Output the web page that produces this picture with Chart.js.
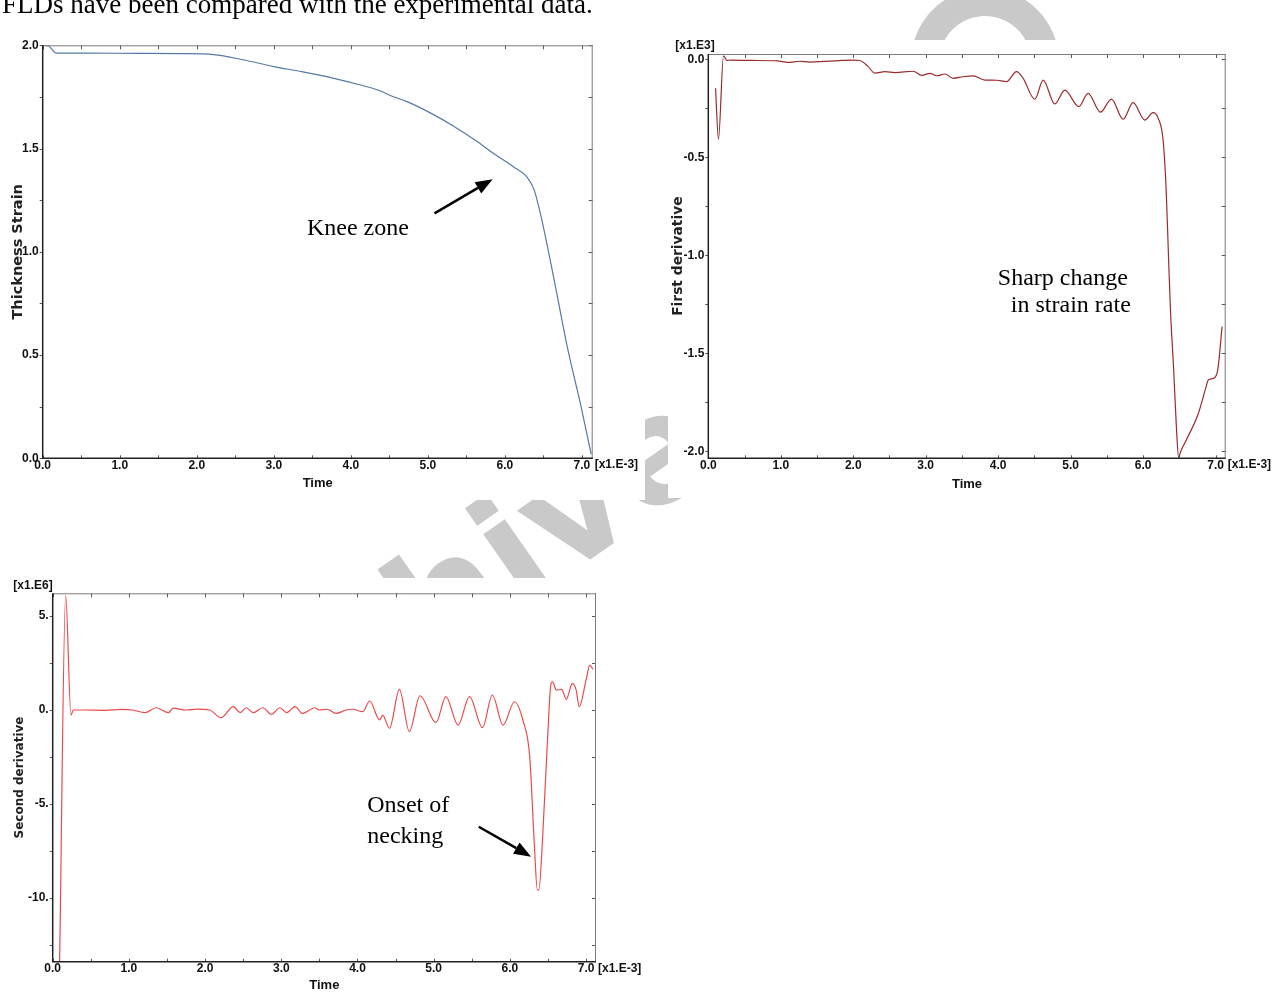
<!DOCTYPE html>
<html>
<head>
<meta charset="utf-8">
<title>Thickness strain and its derivatives</title>
<script src="https://cdn.jsdelivr.net/npm/chart.js@4.4.1/dist/chart.umd.min.js"></script>
<style>
  html, body { margin: 0; padding: 0; background: #fff; }
  #page { position: relative; width: 1277px; height: 994px; overflow: hidden; background: #fff; }
  #stamp { position: absolute; left: 0; top: 0; }
  .intro { position: absolute; left: 2px; top: -9px; font: 27px/27px "Liberation Serif", "Times New Roman", serif; color: #000; white-space: nowrap; }
  .panel { position: absolute; background: #fff; }
  .plot { position: absolute; }
</style>
</head>
<body>
<div id="page">
  <canvas id="stamp" width="1277" height="994"></canvas>
  <div class="intro">FLDs have been compared with the experimental data.</div>
  <div class="panel" style="left:0;top:28px;width:643px;height:470px"></div>
  <div class="panel" style="left:668px;top:40px;width:609px;height:458px"></div>
  <div class="panel" style="left:0;top:578px;width:648px;height:416px"></div>
  <canvas id="strain-chart" class="plot" width="645" height="470" style="left:0;top:30px"></canvas>
  <canvas id="first-chart" class="plot" width="617" height="460" style="left:660px;top:35px"></canvas>
  <canvas id="second-chart" class="plot" width="648" height="419" style="left:0;top:575px"></canvas>
</div>
<script>
// time axis shared by all three plots (x1.E-3)
const timeTicks = [0, 1, 2, 3, 4, 5, 6, 7];

// thickness strain
const strainTime = [0, 0.08, 0.18, 0.6, 1.2, 1.8, 2.22, 2.6, 3.0, 3.35, 3.78, 4.1, 4.38, 4.51, 4.73,
  5.08, 5.34, 5.64, 5.85, 6.11, 6.29, 6.38, 6.47, 6.64, 6.81, 6.99, 7.12];
const strainValue = [2.0, 1.995, 1.962, 1.962, 1.961, 1.96, 1.955, 1.93, 1.897, 1.873, 1.84, 1.81, 1.78, 1.757, 1.727,
  1.663, 1.607, 1.534, 1.477, 1.412, 1.36, 1.30, 1.17, 0.863, 0.54, 0.249, 0.02];
const strainTicks = [0, 0.5, 1.0, 1.5, 2.0];

// first derivative (x1.E3)
const firstTime = [0.10, 0.14, 0.21, 0.26, 0.30, 0.60, 0.95, 1.10, 1.26, 1.40, 1.60, 1.80, 2.00, 2.09, 2.20, 2.30,
  2.437, 2.575, 2.828, 2.943, 3.058, 3.15, 3.265, 3.38, 3.517, 3.655, 3.817, 3.978, 4.116, 4.253, 4.345,
  4.506, 4.621, 4.782, 4.92, 5.113, 5.241, 5.412, 5.564, 5.724, 5.862, 6.023, 6.138, 6.207, 6.276, 6.32,
  6.35, 6.38, 6.42, 6.46, 6.49, 6.52, 6.60, 6.76, 6.87, 6.90, 6.97, 7.03, 7.09];
const firstValue = [-0.148, -0.408, 0.017, -0.006, -0.004, -0.006, -0.008, -0.016, -0.010, -0.014, -0.011, -0.007, -0.004, -0.006, -0.035, -0.071,
  -0.063, -0.068, -0.061, -0.082, -0.072, -0.084, -0.075, -0.097, -0.089, -0.085, -0.106, -0.107, -0.114, -0.063, -0.097,
  -0.204, -0.106, -0.228, -0.157, -0.242, -0.174, -0.27, -0.203, -0.306, -0.221, -0.31, -0.272, -0.30, -0.412, -0.68,
  -1.0, -1.3, -1.57, -1.88, -2.03, -2.0, -1.94, -1.81, -1.67, -1.636, -1.628, -1.585, -1.364];
const firstTicks = [-2.0, -1.5, -1.0, -0.5, 0.0];

// second derivative (x1.E6)
const secondTime = [0.09, 0.17, 0.24, 0.27, 0.40, 0.70, 0.90, 1.05, 1.21, 1.36, 1.52, 1.58, 1.75, 1.90, 2.06,
  2.21, 2.37, 2.46, 2.54, 2.63, 2.76, 2.87, 2.98, 3.07, 3.18, 3.28, 3.44, 3.50, 3.60, 3.72, 3.85, 3.94,
  4.07, 4.16, 4.29, 4.33, 4.42, 4.55, 4.68, 4.82, 5.03, 5.16, 5.32, 5.47, 5.64, 5.77, 5.91, 6.06, 6.17,
  6.26, 6.32, 6.36, 6.38, 6.43, 6.50, 6.54, 6.56, 6.61, 6.68, 6.74, 6.82, 6.87, 6.91, 7.00, 7.05, 7.09];
const secondValue = [-13.6, 6.1, -0.27, 0.0, 0.0, -0.02, 0.03, 0.0, -0.14, 0.12, -0.14, 0.1, 0.0, 0.05, 0.0,
  -0.41, 0.18, -0.14, 0.12, -0.14, 0.12, -0.23, 0.12, -0.14, 0.18, -0.18, 0.12, 0.0, 0.04, -0.18, 0.0, 0.04,
  -0.09, 0.48, -0.53, -0.27, -0.97, 1.10, -1.15, 0.76, -0.67, 0.71, -0.80, 0.71, -0.94, 0.80, -0.80, 0.44, -0.53,
  -2.48, -7.09, -9.57, -9.57, -6.74, -1.06, 1.42, 1.5, 1.06, 1.10, 0.57, 1.42, 1.06, 0.18, 1.6, 2.39, 2.16];
const secondTicks = [-10, -5, 0, 5];

const sans = "'Liberation Sans', Arial, sans-serif";
const serif = "'Liberation Serif', 'Times New Roman', serif";

// faint diagonal stamp behind the panels
(function () {
  const c = document.getElementById('stamp').getContext('2d');
  c.fillStyle = '#c9c9c9';
  c.save();
  c.translate(204, 830);
  c.rotate(-35 * Math.PI / 180);
  c.font = "bold 150px 'DejaVu Sans', sans-serif";
  c.fillText('Archive of SID', 0, 0);
  c.restore();
  // top of a further letter peeking over the right panel
  c.beginPath();
  c.arc(985, 62, 74, 0, Math.PI * 2);
  c.arc(985, 62, 46, 0, Math.PI * 2, true);
  c.fill();
})();

// box, minor ticks, exponent labels, notes and arrows
const plotFrame = {
  id: 'plotFrame',
  afterDraw(chart, args, o) {
    const {ctx, chartArea: a, scales: {x, y}} = chart;
    ctx.save();
    ctx.lineWidth = 1;
    ctx.strokeStyle = '#555';
    ctx.beginPath();
    for (let i = 0; i * o.xMinor <= x.max + 1e-9; i++) {
      const px = Math.round(x.getPixelForValue(i * o.xMinor)) + 0.5;
      ctx.moveTo(px, a.top); ctx.lineTo(px, a.top + 4);
      ctx.moveTo(px, a.bottom); ctx.lineTo(px, a.bottom - 3);
    }
    const first = Math.ceil(y.min / o.yMinor - 1e-9);
    for (let i = first; i * o.yMinor <= y.max + 1e-9; i++) {
      const py = Math.round(y.getPixelForValue(i * o.yMinor)) + 0.5;
      ctx.moveTo(a.left - 3, py); ctx.lineTo(a.left, py);
      ctx.moveTo(a.right, py); ctx.lineTo(a.right - 4, py);
    }
    ctx.stroke();

    ctx.strokeStyle = '#7a7a7a';
    ctx.beginPath();
    ctx.moveTo(a.left, a.top + 0.5); ctx.lineTo(a.right, a.top + 0.5);
    ctx.moveTo(a.right - 0.5, a.top); ctx.lineTo(a.right - 0.5, a.bottom);
    ctx.stroke();
    ctx.strokeStyle = '#222';
    ctx.lineWidth = 1.5;
    ctx.beginPath();
    ctx.moveTo(a.left, a.top); ctx.lineTo(a.left, a.bottom); ctx.lineTo(a.right, a.bottom);
    ctx.stroke();

    ctx.fillStyle = '#111';
    ctx.font = 'bold 12px ' + sans;
    ctx.textBaseline = 'middle';
    ctx.textAlign = 'left';
    ctx.fillText('[x1.E-3]', a.right + 2, a.bottom + 6.5);
    if (o.yExp) ctx.fillText(o.yExp, a.left + o.yExpDx, a.top - 8);

    ctx.fillStyle = '#000';
    ctx.font = '24px ' + serif;
    ctx.textBaseline = 'alphabetic';
    (o.notes || []).forEach(n => {
      ctx.fillText(n.text, x.getPixelForValue(n.x), y.getPixelForValue(n.y));
    });
    if (o.arrow) {
      const x0 = x.getPixelForValue(o.arrow.from[0]), y0 = y.getPixelForValue(o.arrow.from[1]);
      const x1 = x.getPixelForValue(o.arrow.to[0]), y1 = y.getPixelForValue(o.arrow.to[1]);
      const ang = Math.atan2(y1 - y0, x1 - x0);
      const len = 17, half = 6.5;
      const bx = x1 - len * Math.cos(ang), by = y1 - len * Math.sin(ang);
      ctx.strokeStyle = '#000';
      ctx.lineWidth = 2.5;
      ctx.beginPath();
      ctx.moveTo(x0, y0); ctx.lineTo(bx, by);
      ctx.stroke();
      ctx.beginPath();
      ctx.moveTo(x1, y1);
      ctx.lineTo(bx + half * Math.sin(ang), by - half * Math.cos(ang));
      ctx.lineTo(bx - half * Math.sin(ang), by + half * Math.cos(ang));
      ctx.closePath();
      ctx.fill();
    }
    ctx.restore();
  }
};

function makePlot(id, s) {
  const points = s.t.map((t, i) => ({x: t, y: s.v[i]}));
  return new Chart(document.getElementById(id), {
    type: 'line',
    data: {
      datasets: [{
        data: points,
        borderColor: s.color,
        borderWidth: 1.2,
        pointRadius: 0,
        fill: false,
        cubicInterpolationMode: 'monotone'
      }]
    },
    options: {
      responsive: false,
      animation: false,
      events: [],
      layout: {padding: s.pad},
      plugins: {
        legend: {display: false},
        tooltip: {enabled: false},
        plotFrame: s.frame
      },
      scales: {
        x: {
          type: 'linear',
          min: 0,
          max: s.xMax,
          afterBuildTicks: a => { a.ticks = timeTicks.map(v => ({value: v})); },
          afterFit: a => { a.height = s.xHeight; },
          grid: {display: false, drawTicks: false},
          border: {display: false},
          ticks: {
            padding: 0, maxRotation: 0, autoSkip: false, color: '#111',
            font: {family: sans, weight: 'bold', size: 12},
            callback: v => v.toFixed(1)
          },
          title: {
            display: true, text: 'Time', color: '#111', padding: 0,
            font: {family: sans, weight: 'bold', size: 13}
          }
        },
        y: {
          type: 'linear',
          min: s.yMin,
          max: s.yMax,
          afterBuildTicks: a => { a.ticks = s.yTicks.map(v => ({value: v})); },
          afterFit: a => { a.width = s.yWidth; },
          grid: {display: false, drawTicks: false},
          border: {display: false},
          ticks: {
            padding: 4, color: '#111',
            font: {family: sans, weight: 'bold', size: 12},
            callback: s.yLabel
          },
          title: {
            display: true, text: s.yTitle, color: '#222',
            padding: {top: s.yTitlePad, bottom: 0},
            font: {family: "'DejaVu Sans', sans-serif", weight: 'bold', size: s.yTitleSize}
          }
        }
      }
    },
    plugins: [plotFrame]
  });
}

makePlot('strain-chart', {
  t: strainTime, v: strainValue, color: '#5479a6',
  xMax: 7.14, yMin: 0, yMax: 2, yTicks: strainTicks,
  yLabel: v => v.toFixed(1),
  yTitle: 'Thickness Strain', yTitleSize: 14.5, yTitlePad: 9.3,
  pad: {left: 0, top: 15.3, right: 52.3, bottom: 8.6},
  xHeight: 33.1, yWidth: 42.7,
  frame: {
    xMinor: 0.5, yMinor: 0.25,
    notes: [{text: 'Knee zone', x: 3.43, y: 1.081}],
    arrow: {from: [5.086, 1.186], to: [5.841, 1.351]}
  }
});

makePlot('first-chart', {
  t: firstTime, v: firstValue, color: '#9a2b2b',
  xMax: 7.14, yMin: -2.036, yMax: 0.027, yTicks: firstTicks,
  yLabel: v => v.toFixed(1),
  yTitle: 'First derivative', yTitleSize: 13.8, yTitlePad: 9.7,
  pad: {left: 0, top: 19, right: 51.3, bottom: 2.6},
  xHeight: 34.1, yWidth: 48.3,
  frame: {
    xMinor: 0.5, yMinor: 0.25, yExp: '[x1.E3]', yExpDx: -33,
    notes: [
      {text: 'Sharp change', x: 3.996, y: -1.152},
      {text: 'in strain rate', x: 4.175, y: -1.289}
    ]
  }
});

makePlot('second-chart', {
  t: secondTime, v: secondValue, color: '#ec4a4a',
  xMax: 7.13, yMin: -13.39, yMax: 6.21, yTicks: secondTicks,
  yLabel: v => Math.round(v) + '.',
  yTitle: 'Second derivative', yTitleSize: 12, yTitlePad: 12.3,
  pad: {left: 0, top: 18.3, right: 52, bottom: 0.6},
  xHeight: 31.7, yWidth: 52.7,
  frame: {
    xMinor: 0.5, yMinor: 2.5, yExp: '[x1.E6]', yExpDx: -39.4,
    notes: [
      {text: 'Onset of', x: 4.128, y: -5.426},
      {text: 'necking', x: 4.128, y: -7.09}
    ],
    arrow: {from: [5.591, -6.21], to: [6.278, -7.80]}
  }
});
</script>
</body>
</html>
